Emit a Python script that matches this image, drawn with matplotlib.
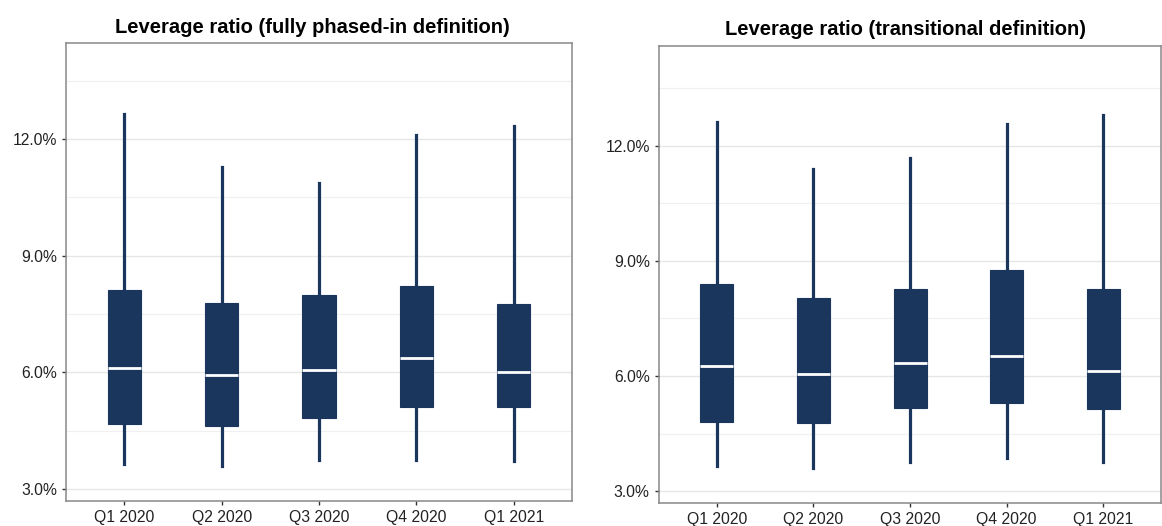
import matplotlib.pyplot as plt
from matplotlib.ticker import FuncFormatter, MultipleLocator

plt.rcParams['font.family'] = ['Liberation Sans', 'DejaVu Sans']

quarters = ['Q1 2020', 'Q2 2020', 'Q3 2020', 'Q4 2020', 'Q1 2021']

# fully phased-in definition (%)
full_low = [3.64, 3.59, 3.75, 3.75, 3.73]
full_q1 = [4.66, 4.62, 4.82, 5.11, 5.11]
full_med = [6.10, 5.94, 6.07, 6.36, 6.00]
full_q3 = [8.11, 7.79, 8.00, 8.21, 7.75]
full_high = [12.64, 11.27, 10.86, 12.11, 12.34]

# transitional definition (%)
trans_low = [3.65, 3.59, 3.75, 3.87, 3.75]
trans_q1 = [4.80, 4.77, 5.16, 5.30, 5.14]
trans_med = [6.26, 6.04, 6.35, 6.53, 6.12]
trans_q3 = [8.39, 8.04, 8.26, 8.75, 8.28]
trans_high = [12.63, 11.40, 11.68, 12.56, 12.81]

navy = '#1a365d'


def make_stats(low, q1, med, q3, high):
    stats = []
    for i in range(len(quarters)):
        stats.append({'whislo': low[i], 'q1': q1[i], 'med': med[i],
                      'q3': q3[i], 'whishi': high[i], 'fliers': []})
    return stats


def draw_panel(ax, stats, title, ylim, tx):
    ax.bxp(stats, positions=range(1, 6), widths=0.34, patch_artist=True,
           showcaps=False, showfliers=False,
           boxprops=dict(facecolor=navy, edgecolor=navy, linewidth=0.8),
           whiskerprops=dict(color=navy, linewidth=2.3),
           medianprops=dict(color='white', linewidth=2.0, solid_capstyle='butt'))
    ax.set_xlim(0.4, 5.6)
    ax.set_ylim(*ylim)
    ax.set_xticks(range(1, 6))
    ax.set_xticklabels(quarters)
    ax.yaxis.set_major_locator(MultipleLocator(3))
    ax.yaxis.set_minor_locator(MultipleLocator(1.5))
    ax.yaxis.set_major_formatter(FuncFormatter(lambda v, p: f'{v:.1f}%'))
    ax.grid(axis='y', which='major', color='#e6e6e6', linewidth=1.0)
    ax.grid(axis='y', which='minor', color='#f0f0f0', linewidth=0.9)
    ax.set_axisbelow(True)
    ax.tick_params(axis='y', which='minor', length=0)
    ax.tick_params(which='major', length=3, width=1, color='#333333',
                   labelsize=11.3, labelcolor='#222222')
    for s in ax.spines.values():
        s.set_color('#888888')
        s.set_linewidth(1.1)
    ax.set_title(title, fontsize=14.5, fontweight='bold', pad=7.5, x=tx)


fig = plt.figure(figsize=(11.62, 5.26), dpi=100)
ax1 = fig.add_axes([0.0568, 0.0475, 0.4355, 0.8702])
ax2 = fig.add_axes([0.5669, 0.0431, 0.4326, 0.8700])

draw_panel(ax1, make_stats(full_low, full_q1, full_med, full_q3, full_high),
           'Leverage ratio (fully phased-in definition)', (2.69, 14.46), 0.486)
draw_panel(ax2, make_stats(trans_low, trans_q1, trans_med, trans_q3, trans_high),
           'Leverage ratio (transitional definition)', (2.68, 14.61), 0.49)

fig.savefig('out.png', dpi=100)
